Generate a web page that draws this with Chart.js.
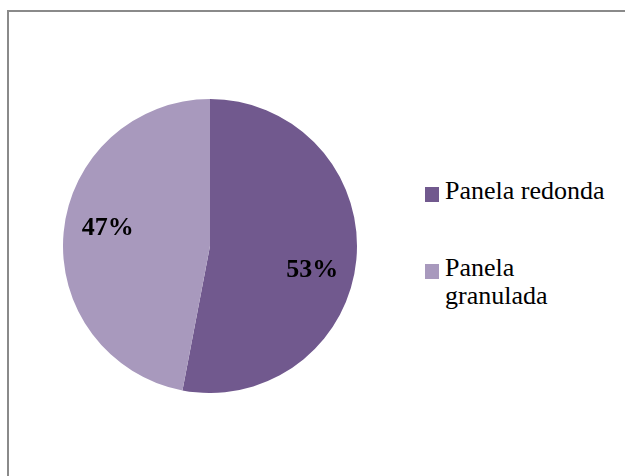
<!DOCTYPE html>
<html>
<head>
<meta charset="utf-8">
<script src="https://cdn.jsdelivr.net/npm/chart.js@4"></script>
<style>
  html, body { margin: 0; padding: 0; background: #fff; overflow: hidden; }
  body { width: 625px; height: 476px; position: relative; }
  #frame {
    position: absolute; left: 7px; top: 10px; width: 700px; height: 600px;
    border-left: 2px solid #8a8a8a; border-top: 2px solid #8a8a8a;
  }
  #pieBox { position: absolute; left: 63px; top: 99px; width: 294px; height: 294px; }
  #legend { position: absolute; left: 425px; top: 177px; font-family: 'Liberation Serif'; font-size: 26px; line-height: 28px; color: #000; }
  .item { position: relative; padding-left: 20px; width: 170px; }
  .item + .item { margin-top: 49px; }
  .swatch { position: absolute; left: 0; top: 10px; width: 14px; height: 15px; }
</style>
</head>
<body>
<div id="frame"></div>
<div id="pieBox"><canvas id="pieChart" width="294" height="294"></canvas></div>
<div id="legend"></div>
<script>
// Share of each panela type
const categories = ["Panela redonda", "Panela granulada"];
const shares = [53, 47];
const colors = ["#71598e", "#a899bd"];

// Percent labels inside each slice, placed along the slice's middle angle
const sliceLabels = {
  id: "sliceLabels",
  afterDatasetsDraw(chart) {
    const ctx = chart.ctx;
    const meta = chart.getDatasetMeta(0);
    ctx.save();
    ctx.font = "bold 26px 'Liberation Serif'";
    ctx.fillStyle = "#000";
    ctx.textAlign = "center";
    ctx.textBaseline = "alphabetic";
    meta.data.forEach((arc, i) => {
      const mid = (arc.startAngle + arc.endAngle) / 2 + 0.11;
      const r = arc.outerRadius * 0.71;
      const x = arc.x + Math.cos(mid) * r;
      const y = arc.y + Math.sin(mid) * r;
      ctx.fillText(shares[i] + "%", x, y + 10);
    });
    ctx.restore();
  }
};

new Chart(document.getElementById("pieChart").getContext("2d"), {
  type: "pie",
  data: {
    labels: categories,
    datasets: [{
      data: shares,
      backgroundColor: colors,
      borderWidth: 0
    }]
  },
  options: {
    responsive: false,
    animation: false,
    plugins: {
      legend: { display: false },
      tooltip: { enabled: false }
    }
  },
  plugins: [sliceLabels]
});

// Legend on the right
const legend = document.getElementById("legend");
categories.forEach((name, i) => {
  const item = document.createElement("div");
  item.className = "item";
  const sw = document.createElement("span");
  sw.className = "swatch";
  sw.style.background = colors[i];
  item.appendChild(sw);
  item.appendChild(document.createTextNode(name));
  legend.appendChild(item);
});
</script>
</body>
</html>
